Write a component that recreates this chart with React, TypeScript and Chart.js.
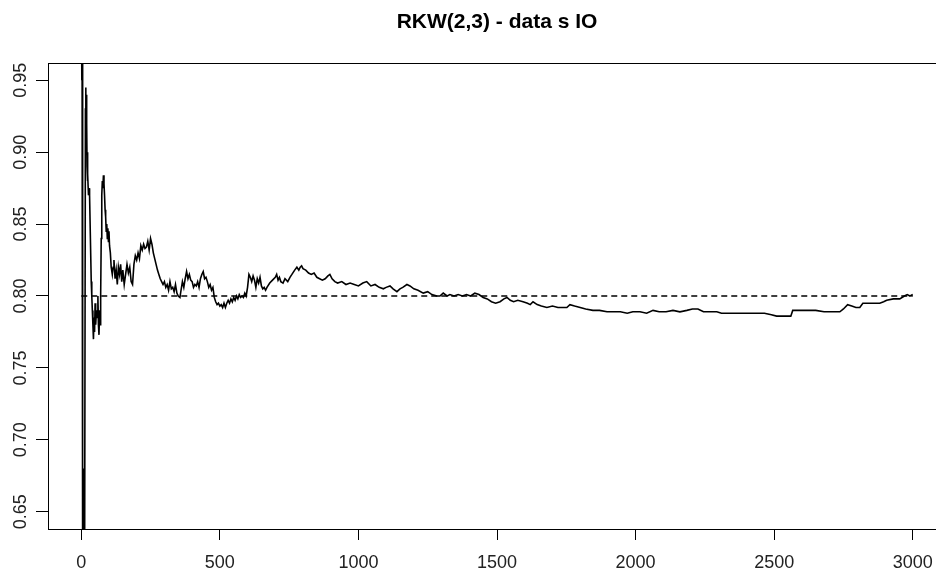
import React, { useEffect, useRef } from "react";
import { Chart, registerables } from "chart.js";

Chart.register(...registerables);

const titleText = "RKW(2,3) - data s IO";

const xValues = [
  1, 2, 3, 4, 5, 6, 7, 8, 9, 10, 11, 12, 13, 15, 16, 17, 18, 19, 20, 21, 22, 23, 24, 26, 28, 30, 33, 36, 38, 40,
  42, 44, 46, 48, 50, 52, 55, 58, 60, 62, 64, 66, 68, 70, 72, 74, 76, 78, 80, 82, 84, 86, 88, 90, 92, 94, 96, 98, 100, 102,
  105, 108, 112, 115, 118, 122, 126, 130, 134, 138, 142, 146, 150, 155, 160, 165, 170, 175, 180, 185, 190, 195, 200, 205, 210, 215, 220, 225, 230, 235,
  240, 245, 250, 255, 260, 265, 270, 275, 280, 285, 290, 295, 300, 305, 310, 315, 320, 325, 330, 335, 340, 345, 350, 356, 360, 365, 370, 375, 380, 385,
  390, 395, 400, 405, 410, 415, 420, 425, 430, 435, 440, 445, 450, 455, 460, 465, 470, 475, 480, 485, 490, 495, 500, 505, 510, 515, 520, 525, 530, 535,
  540, 545, 550, 555, 560, 565, 570, 575, 580, 585, 590, 595, 600, 605, 610, 615, 620, 625, 630, 635, 640, 645, 650, 655, 660, 665, 670, 680, 690, 700,
  705, 710, 715, 720, 728, 735, 745, 753, 760, 770, 778, 785, 790, 795, 800, 810, 820, 830, 840, 850, 860, 870, 880, 890, 897, 905, 915, 925, 940, 955,
  970, 985, 1000, 1016, 1030, 1045, 1060, 1075, 1090, 1100, 1114, 1125, 1139, 1150, 1160, 1175, 1186, 1200, 1215, 1234, 1250, 1265, 1283, 1294, 1306, 1320, 1330, 1345, 1360, 1375,
  1390, 1405, 1420, 1435, 1450, 1465, 1480, 1495, 1511, 1525, 1536, 1548, 1560, 1575, 1594, 1610, 1620, 1630, 1645, 1660, 1680, 1700, 1720, 1740, 1752, 1763, 1780, 1800, 1820, 1846,
  1870, 1897, 1920, 1945, 1970, 1990, 2016, 2040, 2063, 2085, 2110, 2135, 2160, 2185, 2205, 2225, 2245, 2270, 2293, 2310, 2340, 2370, 2400, 2420, 2440, 2465, 2490, 2509, 2535, 2560,
  2567, 2590, 2620, 2650, 2680, 2700, 2720, 2737, 2750, 2765, 2780, 2795, 2809, 2820, 2840, 2860, 2881, 2895, 2906, 2930, 2953, 2970, 2980, 2990, 3000,
];

const yValues = [
  1.0, 0.95, 0.97, 0.92, 0.93, 0.6, 0.66, 0.63, 0.68, 0.64, 0.67, 0.62, 0.6, 0.93, 0.945, 0.93, 0.94, 0.91, 0.92, 0.89, 0.9, 0.88, 0.885, 0.87, 0.875, 0.87, 0.84, 0.81, 0.8, 0.79,
  0.78, 0.77, 0.785, 0.775, 0.795, 0.78, 0.79, 0.785, 0.8, 0.78, 0.773, 0.79, 0.78, 0.8, 0.84, 0.87, 0.88, 0.875, 0.884, 0.878, 0.87, 0.86, 0.855, 0.845, 0.85, 0.84, 0.847, 0.838, 0.845, 0.835,
  0.83, 0.82, 0.815, 0.82, 0.825, 0.812, 0.818, 0.808, 0.82, 0.815, 0.822, 0.81, 0.818, 0.808, 0.815, 0.822, 0.816, 0.82, 0.81, 0.808, 0.822, 0.828, 0.825, 0.83, 0.826, 0.835, 0.832, 0.836, 0.833, 0.834,
  0.838, 0.832, 0.84, 0.836, 0.83, 0.826, 0.822, 0.818, 0.815, 0.812, 0.81, 0.808, 0.81, 0.806, 0.808, 0.804, 0.81, 0.805, 0.806, 0.803, 0.808, 0.802, 0.8, 0.799, 0.804, 0.81, 0.806, 0.812, 0.817, 0.812,
  0.815, 0.811, 0.81, 0.806, 0.808, 0.807, 0.81, 0.806, 0.812, 0.815, 0.817, 0.812, 0.813, 0.81, 0.806, 0.808, 0.804, 0.806, 0.799, 0.796, 0.794, 0.795, 0.793, 0.794, 0.792, 0.795, 0.792, 0.795, 0.797, 0.795,
  0.798, 0.796, 0.799, 0.797, 0.8, 0.798, 0.801, 0.799, 0.8, 0.799, 0.802, 0.8, 0.806, 0.815, 0.813, 0.81, 0.814, 0.811, 0.806, 0.812, 0.809, 0.813, 0.807, 0.805, 0.806, 0.804, 0.806, 0.809, 0.811, 0.813,
  0.815, 0.811, 0.813, 0.81, 0.809, 0.812, 0.81, 0.813, 0.815, 0.818, 0.82, 0.818, 0.82, 0.821, 0.819, 0.818, 0.816, 0.815, 0.816, 0.813, 0.812, 0.811, 0.812, 0.814, 0.815, 0.812, 0.81, 0.809, 0.81, 0.808,
  0.809, 0.808, 0.807, 0.809, 0.81, 0.807, 0.808, 0.806, 0.805, 0.806, 0.807, 0.805, 0.803, 0.805, 0.806, 0.808, 0.807, 0.805, 0.804, 0.802, 0.803, 0.801, 0.8, 0.8, 0.802, 0.8, 0.801, 0.8, 0.801, 0.8,
  0.801, 0.8, 0.802, 0.801, 0.799, 0.798, 0.796, 0.795, 0.796, 0.798, 0.799, 0.797, 0.796, 0.797, 0.796, 0.795, 0.794, 0.796, 0.794, 0.793, 0.792, 0.793, 0.792, 0.792, 0.792, 0.794, 0.793, 0.792, 0.791, 0.79,
  0.79, 0.789, 0.789, 0.789, 0.788, 0.789, 0.789, 0.788, 0.79, 0.789, 0.789, 0.79, 0.789, 0.79, 0.791, 0.791, 0.789, 0.789, 0.789, 0.788, 0.788, 0.788, 0.788, 0.788, 0.788, 0.788, 0.787, 0.786, 0.786, 0.786,
  0.79, 0.79, 0.79, 0.79, 0.789, 0.789, 0.789, 0.789, 0.791, 0.794, 0.793, 0.792, 0.792, 0.795, 0.795, 0.795, 0.795, 0.796, 0.797, 0.798, 0.798, 0.8, 0.801, 0.8, 0.801,
];

const refX = [0, 3000];
const refY = [0.8, 0.8];

const xTicks = [0, 500, 1000, 1500, 2000, 2500, 3000];
const yTicks = [0.65, 0.7, 0.75, 0.8, 0.85, 0.9, 0.95];
const yTickLabels = ["0.65", "0.70", "0.75", "0.80", "0.85", "0.90", "0.95"];

const FONT = "'Liberation Sans', Arial, sans-serif";

const boxPlugin = {
  id: "plotBox",
  afterDatasetsDraw(chart: any) {
    const { ctx, chartArea } = chart;
    ctx.save();
    ctx.strokeStyle = "#000";
    ctx.lineWidth = 1;
    ctx.strokeRect(
      Math.round(chartArea.left) + 0.5,
      Math.round(chartArea.top) + 0.5,
      Math.round(chartArea.right - chartArea.left),
      Math.round(chartArea.bottom - chartArea.top)
    );
    ctx.restore();
  },
};

export default function App() {
  const canvasRef = useRef<HTMLCanvasElement | null>(null);

  useEffect(() => {
    if (!canvasRef.current) return;
    const mainData = xValues.map((x, i) => ({ x, y: yValues[i] }));
    const refData = refX.map((x, i) => ({ x, y: refY[i] }));
    const chart = new Chart(canvasRef.current, {
      type: "line",
      data: {
        datasets: [
          {
            data: refData,
            borderColor: "#000",
            borderWidth: 1.4,
            borderDash: [6, 4],
            pointRadius: 0,
            tension: 0,
          },
          {
            data: mainData,
            borderColor: "#000",
            borderWidth: 1.6,
            pointRadius: 0,
            tension: 0,
          },
        ],
      },
      options: {
        animation: false,
        responsive: false,
        devicePixelRatio: 1,
        layout: { padding: { left: 0, right: 34, top: 0, bottom: 0 } },
        plugins: {
          legend: { display: false },
          tooltip: { enabled: false },
          title: {
            display: true,
            text: titleText,
            fullSize: false,
            color: "#000",
            font: { family: FONT, size: 21, weight: "bold" },
            padding: { top: 9.4, bottom: 28.4 },
          },
        },
        scales: {
          x: {
            type: "linear",
            min: -120,
            max: 3120,
            afterFit(scale: any) {
              scale.height = 44;
            },
            afterBuildTicks(scale: any) {
              scale.ticks = xTicks.map((v) => ({ value: v }));
            },
            grid: {
              display: true,
              drawOnChartArea: false,
              drawTicks: true,
              tickLength: 11,
              color: "#000",
              lineWidth: 1,
            },
            border: { display: true, color: "#000", width: 1 },
            ticks: {
              color: "#222",
              font: { family: FONT, size: 18 },
              padding: 12,
              maxRotation: 0,
              minRotation: 0,
              callback: (v: any) => String(v),
            },
          },
          y: {
            type: "linear",
            min: 0.638,
            max: 0.962,
            afterFit(scale: any) {
              scale.width = 48;
            },
            afterBuildTicks(scale: any) {
              scale.ticks = yTicks.map((v) => ({ value: v }));
            },
            grid: {
              display: true,
              drawOnChartArea: false,
              drawTicks: true,
              tickLength: 12,
              color: "#000",
              lineWidth: 1,
            },
            border: { display: true, color: "#000", width: 1 },
            ticks: {
              color: "#222",
              font: { family: FONT, size: 18 },
              padding: -3,
              minRotation: 90,
              maxRotation: 90,
              crossAlign: "center",
              callback: (v: any) => {
                const i = yTicks.findIndex((t) => Math.abs(t - v) < 1e-9);
                return i >= 0 ? yTickLabels[i] : "";
              },
            },
          },
        },
      },
      plugins: [boxPlugin],
    });
    return () => chart.destroy();
  }, []);

  return (
    <div
      style={{
        position: "fixed",
        left: 0,
        top: 0,
        width: 936,
        height: 573,
        overflow: "hidden",
        background: "#fff",
      }}
    >
      <canvas ref={canvasRef} width={980} height={573} style={{ width: 980, height: 573, display: "block" }} />
    </div>
  );
}
